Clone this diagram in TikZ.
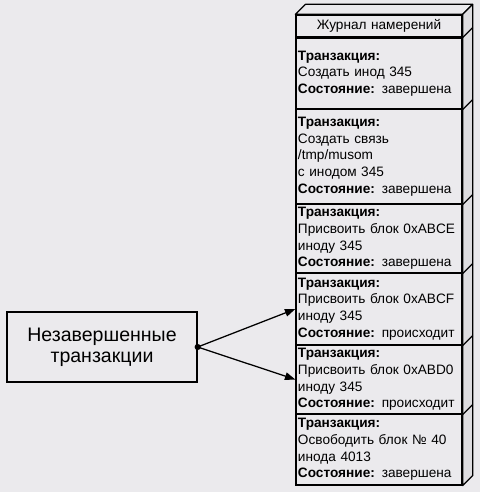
\documentclass[tikz,border=0pt]{standalone}
\usepackage{fontspec}
\setmainfont{Liberation Sans}
\usetikzlibrary{arrows.meta, positioning, calc}
\definecolor{paper}{RGB}{235,234,237}
\definecolor{sideface}{RGB}{222,221,224}

\begin{document}
\begin{tikzpicture}[x=0.025cm, y=-0.025cm,
        arr/.style={-{Triangle[length=2.6mm, width=1.9mm]}, line width=0.9pt},
        rec/.style={draw, line width=0.9pt, minimum width=4.15cm,
                    inner xsep=0.05cm, inner ysep=1pt, text width=4.05cm,
                    align=left, font=\fontsize{9.7}{11.9}\selectfont},
        face/.style={draw, line width=0.9pt, line join=round}
      ]
        \useasboundingbox[fill=paper] (0,0) rectangle (480,492);

        \node[rec, align=center, minimum height=0.55cm] (head) at (379, 26)
              {Журнал намерений};
        \node[rec, minimum height=1.775cm] (r1) at (379, 73.5)
              {\textbf{Транзакция:}\\ Создать инод 345\\
               \textbf{Состояние:} завершена};
        \node[rec, minimum height=2.375cm] (r2) at (379, 156.5)
              {\textbf{Транзакция:}\\ Создать связь\\ /tmp/musom\\ с инодом 345\\
               \textbf{Состояние:} завершена};
        \node[rec, minimum height=1.725cm] (r3) at (379, 238.5)
              {\textbf{Транзакция:}\\ Присвоить блок 0xABCE\\ иноду 345\\
               \textbf{Состояние:} завершена};
        \node[rec, minimum height=1.8cm] (r4) at (379, 309)
              {\textbf{Транзакция:}\\ Присвоить блок 0xABCF\\ иноду 345\\
               \textbf{Состояние:} происходит};
        \node[rec, minimum height=1.725cm] (r5) at (379, 379.5)
              {\textbf{Транзакция:}\\ Присвоить блок 0xABD0\\ иноду 345\\
               \textbf{Состояние:} происходит};
        \node[rec, minimum height=1.775cm] (r6) at (379, 449.5)
              {\textbf{Транзакция:}\\ Освободить блок № 40\\ инода 4013\\
               \textbf{Состояние:} завершена};

        % depth of the journal block
        \draw[face, fill=paper] (head.north west) -- ++(10,-10)
              -- ($(head.north east)+(10,-10)$) -- (head.north east) -- cycle;
        \draw[face, fill=sideface] (head.north east) -- ++(10,-10)
              -- ($(r6.south east)+(10,-10)$) -- (r6.south east) -- cycle;
        \foreach \r in {head, r1, r2, r3, r4, r5}
          \draw[line width=0.9pt] (\r.south east) -- ++(10,-10);

        \node[draw, line width=0.9pt, minimum width=4.75cm, minimum height=1.75cm,
              align=center, font=\fontsize{13.9}{15}\selectfont] (pending)
              at (102, 347) {Незавершенные\\ транзакции};

        \fill (pending.east) circle (2.2pt);
        \draw[arr] (pending.east) -- (r4.west);
        \draw[arr] (pending.east) -- (r5.west);
      \end{tikzpicture}
\end{document}
